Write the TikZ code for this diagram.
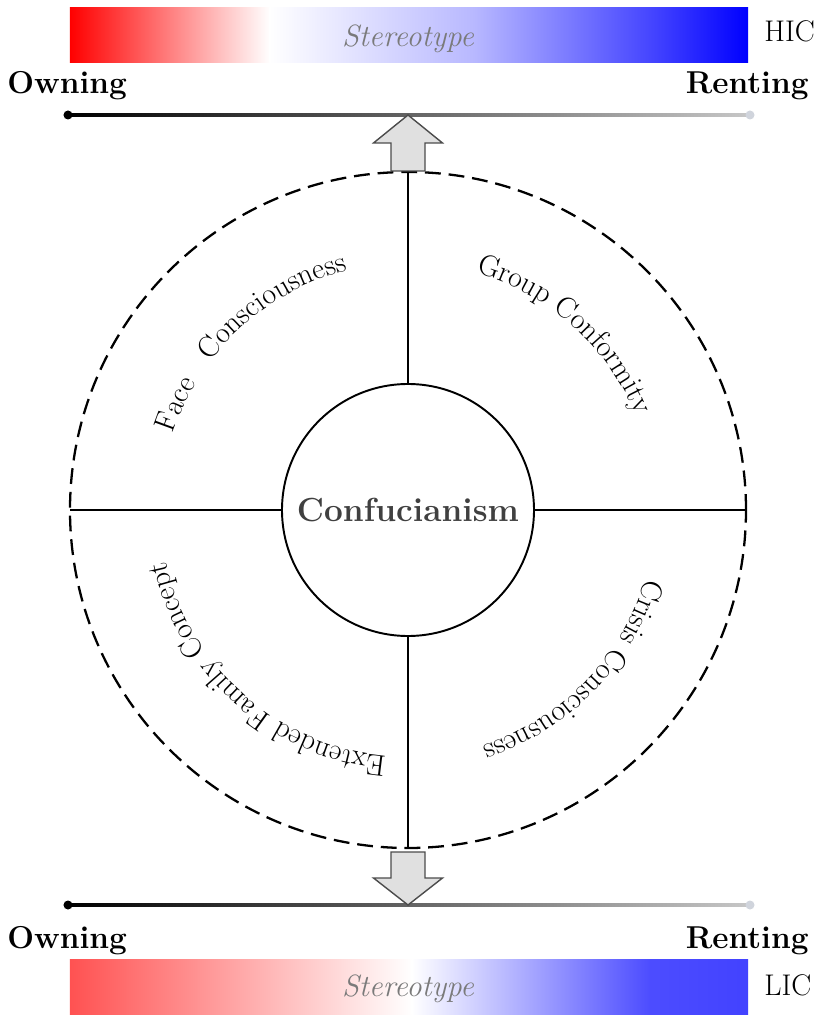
\documentclass[tikz,border=0pt]{standalone}
\usepackage{tikz}
\usetikzlibrary{calc,decorations.text,positioning}
\definecolor{arrowgrey}{gray}{0.88}
\definecolor{dotgrey}{RGB}{208,212,220}
\newcommand{\arcfont}{\fontsize{17}{20}\selectfont}

\begin{document}
\begin{tikzpicture}

\tikzset{corenode/.style={draw,line width=1.1pt,circle,inner sep=0pt,outer sep=0pt,minimum size=5.04cm,font=\fontsize{19}{23}\selectfont\bfseries,text=black!75},
ringnode/.style={draw,line width=1.3pt,dash pattern=on 9pt off 4.5pt,circle,inner sep=0pt,outer sep=0pt,minimum size=13.52cm},
spoke/.style={line width=1pt},
enddot/.style={circle,inner sep=0pt,minimum size=0.18cm},
blockarrow/.style={fill=arrowgrey,draw=black!70,line width=0.8pt,line join=miter},
sidelabel/.style={font=\fontsize{18}{21}\selectfont\bfseries,inner sep=0pt},
barlabel/.style={font=\fontsize{17}{20}\selectfont,inner sep=0pt},
stereo/.style={font=\fontsize{17.5}{21}\selectfont\itshape,text=black!52,inner sep=0pt}}

\useasboundingbox (-8.16,-10.24) rectangle (8.38,10.2);

% HIC bar
\shade[left color=red,right color=white] (-6.76,8.95) rectangle (-2.76,10.05);
\shade[left color=white,right color=blue!28] (-2.77,8.95) rectangle (1.34,10.05);
\shade[left color=blue!28,right color=blue!75] (1.33,8.95) rectangle (5.02,10.05);
\shade[left color=blue!75,right color=blue] (5.01,8.95) rectangle (6.8,10.05);
\node[stereo,anchor=base] (stTop) at (0,9.27) {Stereotype};
\node[barlabel,anchor=base west] (hic) at (7.12,9.37) {HIC};

% LIC bar
\shade[left color=red!68,right color=white] (-6.76,-10.08) rectangle (0.08,-8.98);
\shade[left color=white,right color=blue!70] (0.07,-10.08) rectangle (4.84,-8.98);
\shade[left color=blue!70,right color=blue!74] (4.83,-10.08) rectangle (6.8,-8.98);
\node[stereo,anchor=base] (stBot) at (0,-9.73) {Stereotype};
\node[barlabel,anchor=base west] (lic) at (7.12,-9.70) {LIC};

% Owning / Renting labels
\node[sidelabel,anchor=base west] (ownT) at (-8.02,8.32) {Owning};
\node[sidelabel,anchor=base east] (rentT) at (8.02,8.32) {Renting};
\node[sidelabel,anchor=base west] (ownB) at (-8.02,-8.76) {Owning};
\node[sidelabel,anchor=base east] (rentB) at (8.02,-8.76) {Renting};

% Scales
\coordinate (ownTop) at (-6.8,7.9); \coordinate (rentTop) at (6.84,7.9);
\coordinate (ownBot) at (-6.8,-7.9); \coordinate (rentBot) at (6.84,-7.9);
\shade[left color=black,right color=black!22] ($(ownTop)+(0,-0.022)$) rectangle ($(rentTop)+(0,0.022)$);
\shade[left color=black,right color=black!22] ($(ownBot)+(0,-0.022)$) rectangle ($(rentBot)+(0,0.022)$);
\node[enddot,fill=black] (dotOT) at (ownTop) {}; \node[enddot,fill=dotgrey] (dotRT) at (rentTop) {};
\node[enddot,fill=black] (dotOB) at (ownBot) {}; \node[enddot,fill=dotgrey] (dotRB) at (rentBot) {};

% Circles
\node[ringnode] (ring) at (0,0) {};
\node[corenode] (conf) at (0,0) {Confucianism};
\foreach \a in {0,90,180,270} \draw[spoke] (conf.\a) -- (ring.\a);

% Up and down arrows
\coordinate (upTip) at ($(ownTop)!.5!(rentTop)+(-0.02,0)$);
\coordinate (downTip) at ($(ownBot)!.5!(rentBot)+(-0.02,0)$);
\draw[blockarrow] (upTip) -- ++(0.69,-0.56) -- ++(-0.35,0) -- ++(0,-0.56) -- ++(-0.68,0) -- ++(0,0.56) -- ++(-0.35,0) -- cycle;
\draw[blockarrow] (downTip) -- ++(0.69,0.54) -- ++(-0.35,0) -- ++(0,0.52) -- ++(-0.68,0) -- ++(0,-0.52) -- ++(-0.35,0) -- cycle;

% Curved labels
\path[decorate,decoration={text along path,text={|\arcfont|Face}}] (162:4.94) arc[start angle=162,end angle=144,radius=4.94];
\path[decorate,decoration={text along path,text={|\arcfont|Consciousness}}] (143:4.94) arc[start angle=143,end angle=94,radius=4.94];
\path[decorate,decoration={text along path,text={|\arcfont|Group Conformity}}] (74:4.94) arc[start angle=74,end angle=10,radius=4.94];
\path[decorate,decoration={text along path,text={|\arcfont|Crisis Consciousness}}] (-16:4.94) arc[start angle=-16,end angle=-85,radius=4.94];
\path[decorate,decoration={text along path,text={|\arcfont|Extended Family Concept}}] (265:4.94) arc[start angle=265,end angle=178,radius=4.94];

\end{tikzpicture}
\end{document}
